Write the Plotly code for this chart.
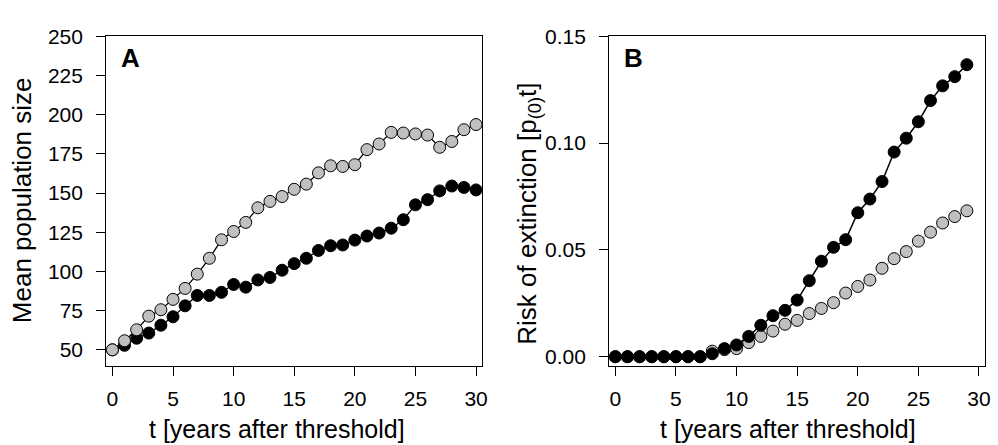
import plotly.graph_objects as go

t_A = list(range(0, 31))
pop_gray = [50, 55.8, 62.8, 71.5, 75.6, 82.2, 89.2, 98.3, 108.4, 120.2, 125.5, 131.3, 140.6, 144.7, 147.8,
            152.4, 155.7, 162.9, 167.4, 167.0, 168.1, 177.7, 181.3, 188.7, 188.3, 187.7, 187.0, 179.2,
            182.9, 190.4, 193.7]
pop_black = [50, 52.9, 57.4, 60.7, 65.7, 71.1, 78.1, 84.7, 84.7, 86.7, 91.7, 90.0, 94.6, 96.2, 100.8,
             105.0, 108.4, 113.4, 116.4, 116.9, 120.0, 122.6, 124.5, 127.6, 133.0, 142.5, 145.8, 151.4,
             154.5, 153.6, 152.0]

t_B = list(range(0, 30))
risk_gray = [0, 0, 0, 0, 0, 0, 0, 0, 0.0026, 0.0033, 0.0038, 0.0066, 0.0095, 0.0120, 0.0152, 0.0170,
             0.0202, 0.0226, 0.0253, 0.0298, 0.0329, 0.0359, 0.0414, 0.0459, 0.0492, 0.0541, 0.0583,
             0.0626, 0.0656, 0.0683]
risk_black = [0, 0, 0, 0, 0, 0, 0, 0, 0.0014, 0.0038, 0.0055, 0.0095, 0.0147, 0.0192, 0.0217, 0.0265,
              0.0356, 0.0447, 0.0512, 0.0548, 0.0674, 0.0738, 0.0820, 0.0958, 0.1023, 0.1100, 0.1199,
              0.1268, 0.1311, 0.1367]

x_ticks = [0, 5, 10, 15, 20, 25, 30]
yA_ticks = [50, 75, 100, 125, 150, 175, 200, 225, 250]
yB_ticks = [0.0, 0.05, 0.10, 0.15]

FONT = "Arial, Liberation Sans, sans-serif"
GRAY = "#c0c0c0"
MS = 12
W, H = 998, 445

fig = go.Figure()

# Panel A: black first, gray on top
fig.add_trace(go.Scatter(x=t_A, y=pop_black, mode="lines+markers", xaxis="x", yaxis="y",
                         line=dict(color="black", width=1.3),
                         marker=dict(size=MS, color="black", line=dict(color="black", width=1)),
                         showlegend=False))
fig.add_trace(go.Scatter(x=t_A, y=pop_gray, mode="lines+markers", xaxis="x", yaxis="y",
                         line=dict(color="black", width=1.3),
                         marker=dict(size=MS, color=GRAY, line=dict(color="black", width=1)),
                         showlegend=False))

# Panel B: gray first, black on top
fig.add_trace(go.Scatter(x=t_B, y=risk_gray, mode="lines+markers", xaxis="x2", yaxis="y2",
                         line=dict(color=GRAY, width=1.5),
                         marker=dict(size=MS, color=GRAY, line=dict(color="black", width=1)),
                         showlegend=False))
fig.add_trace(go.Scatter(x=t_B, y=risk_black, mode="lines+markers", xaxis="x2", yaxis="y2",
                         line=dict(color="black", width=1.5),
                         marker=dict(size=MS, color="black", line=dict(color="black", width=1)),
                         showlegend=False))

axis_common = dict(showline=True, mirror=True, linecolor="black", linewidth=1.3,
                   ticks="outside", ticklen=9, tickwidth=1.2, tickcolor="black",
                   showgrid=False, zeroline=False,
                   tickfont=dict(family=FONT, size=21, color="black"))

xt_font = dict(family=FONT, size=25, color="black")
yt_font = dict(family=FONT, size=26, color="black")

fig.update_layout(
    width=W, height=H,
    margin=dict(l=0, r=0, t=0, b=0),
    paper_bgcolor="white", plot_bgcolor="white",
    xaxis=dict(domain=[0.1072, 0.486], range=[-0.5, 30.5], tickvals=x_ticks, ticklabelstandoff=4,
               anchor="y", **axis_common),
    yaxis=dict(domain=[0.1798, 0.9438], range=[39.5, 250], tickvals=yA_ticks, ticklabelstandoff=9,
               anchor="x", **axis_common),
    xaxis2=dict(domain=[0.6142, 0.993], range=[-0.5, 30.5], tickvals=x_ticks, ticklabelstandoff=4,
                anchor="y2", **axis_common),
    yaxis2=dict(domain=[0.1798, 0.9438], range=[-0.0045, 0.15], tickvals=yB_ticks, tickformat=".2f",
                ticklabelstandoff=9, anchor="x2", **axis_common),
    annotations=[
        dict(text="<b>A</b>", xref="x domain", yref="y domain", x=0.035, y=0.985,
             xanchor="left", yanchor="top", showarrow=False,
             font=dict(family=FONT, size=26, color="black")),
        dict(text="<b>B</b>", xref="x2 domain", yref="y2 domain", x=0.035, y=0.985,
             xanchor="left", yanchor="top", showarrow=False,
             font=dict(family=FONT, size=26, color="black")),
        dict(text="t [years after threshold]", xref="paper", yref="paper",
             x=279 / W, y=1 - 430 / H, xanchor="center", yanchor="middle", showarrow=False,
             font=xt_font),
        dict(text="t [years after threshold]", xref="paper", yref="paper",
             x=793 / W, y=1 - 430 / H, xanchor="center", yanchor="middle", showarrow=False,
             font=xt_font),
        dict(text="Mean population size", xref="paper", yref="paper", textangle=-90,
             x=22 / W, y=1 - 194 / H, xanchor="center", yanchor="middle", showarrow=False,
             font=yt_font),
        dict(text="Risk of extinction [p<sub>(0)</sub>t]", xref="paper", yref="paper", textangle=-90,
             x=532 / W, y=1 - 208 / H, xanchor="center", yanchor="middle", showarrow=False,
             font=yt_font),
    ],
)

fig.write_html("out.html")
